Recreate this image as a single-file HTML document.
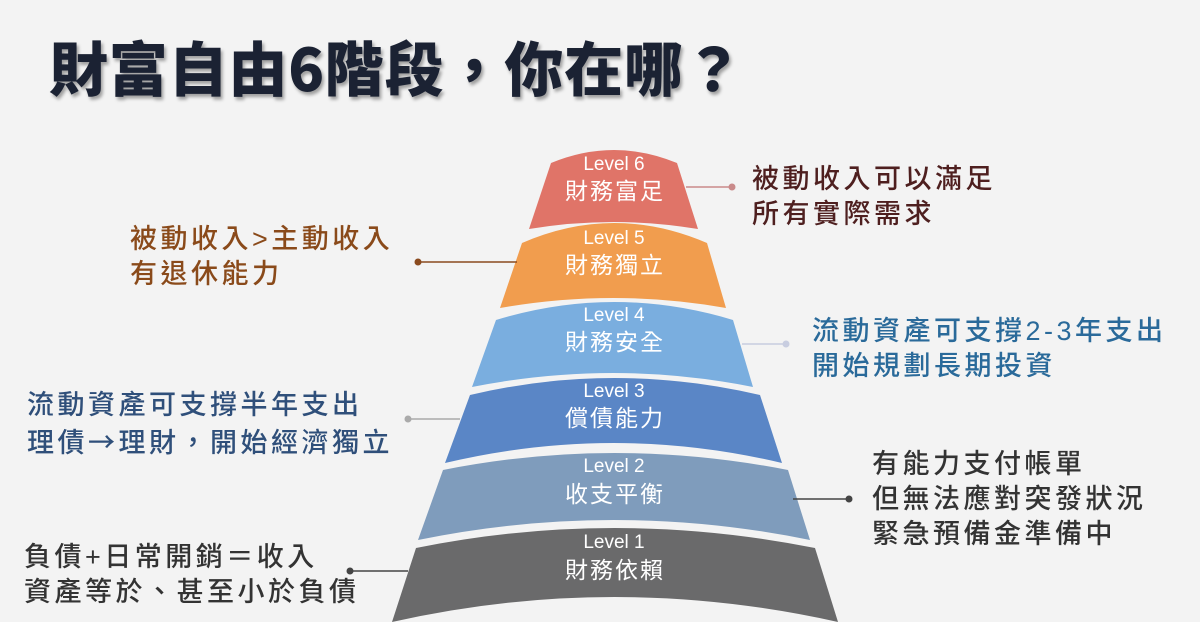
<!DOCTYPE html>
<html><head><meta charset="utf-8"><style>
body{margin:0;width:1200px;height:622px;background:#f3f3f3;overflow:hidden;position:relative;font-family:"Liberation Sans","Noto Sans CJK TC",sans-serif}
.t{position:absolute;font-size:27px;letter-spacing:3.5px;line-height:35px;white-space:nowrap;font-weight:500}
h1{position:absolute;left:49px;top:23px;margin:0;font-size:59px;font-weight:900;color:#1b2233;letter-spacing:0.8px;text-shadow:2px 3px 3px rgba(0,0,0,.35);font-family:"Noto Sans CJK TC",sans-serif}
.c{font-family:"Noto Sans CJK TC",sans-serif}
</style></head><body>
<h1>財富自由6階段，你在哪？</h1>
<svg width="1200" height="622" style="position:absolute;left:0;top:0">
<g font-family="Liberation Sans, Noto Sans CJK TC, sans-serif" fill="#fff" text-anchor="middle">
<path d="M551,163 Q614,137 677,163 L698,229 Q614,215 529,229 Z" fill="#e07468"/>
<path d="M522,243 Q614,203 707,243 L726,308 Q614,288 500,308 Z" fill="#f19d4e"/>
<path d="M496,320 Q614,284 733,320 L753,387 Q614,359 472,387 Z" fill="#7aaedf"/>
<path d="M470,395 Q614,361 760,395 L782,463 Q614,423 445,463 Z" fill="#5a86c6"/>
<path d="M443,470 Q614,436 788,470 L810,540 Q614,500 418,540 Z" fill="#7f9cbc"/>
<path d="M416,548 Q614,508 815,548 L838,622 Q614,572 392,622 Z" fill="#6a6a6b"/>
<g font-size="19"><text x="614" y="170">Level 6</text><text x="614" y="244">Level 5</text><text x="614" y="321">Level 4</text><text x="614" y="397">Level 3</text><text x="614" y="472">Level 2</text><text x="614" y="548">Level 1</text></g>
<g font-size="23" letter-spacing="2"><text x="615" y="199">財務富足</text><text x="615" y="273">財務獨立</text><text x="615" y="350">財務安全</text><text x="615" y="426">償債能力</text><text x="615" y="502">收支平衡</text><text x="615" y="578">財務依賴</text></g>
</g>
<g stroke-width="1.5">
<line x1="686" y1="187" x2="732" y2="187" stroke="#c98a8a"/><circle cx="732" cy="187" r="3.5" fill="#c98a8a"/>
<line x1="418" y1="262" x2="517" y2="262" stroke="#8a4a1e"/><circle cx="418" cy="262" r="3.5" fill="#8a4a1e"/>
<line x1="742" y1="344" x2="786" y2="344" stroke="#c8cde0"/><circle cx="786" cy="344" r="3.5" fill="#c8cde0"/>
<line x1="408" y1="419" x2="460" y2="419" stroke="#aaa"/><circle cx="408" cy="419" r="3.5" fill="#aaa"/>
<line x1="793" y1="499" x2="849" y2="499" stroke="#444"/><circle cx="849" cy="499" r="3.5" fill="#444"/>
<line x1="350" y1="571" x2="408" y2="571" stroke="#444"/><circle cx="350" cy="571" r="3.5" fill="#444"/>
</g>
</svg>
<div class="t" style="left:130px;top:222px;color:#8a4a1a">被動收入&gt;主動收入<br>有退休能力</div>
<div class="t" style="left:27px;top:388px;color:#2f4f7a">流動資產可支撐半年支出<br>理債<span class="c">→</span>理財，開始經濟獨立</div>
<div class="t" style="left:24px;top:540px;color:#333">負債+日常開銷＝收入<br>資產等於、甚至小於負債</div>
<div class="t" style="left:752px;top:162px;color:#4e1f1f">被動收入可以滿足<br>所有實際需求</div>
<div class="t" style="left:812px;top:314px;color:#2a6a9a">流動資產可支撐2-3年支出<br>開始規劃長期投資</div>
<div class="t" style="left:872px;top:447px;color:#333">有能力支付帳單<br>但無法應對突發狀況<br>緊急預備金準備中</div>
</body></html>
